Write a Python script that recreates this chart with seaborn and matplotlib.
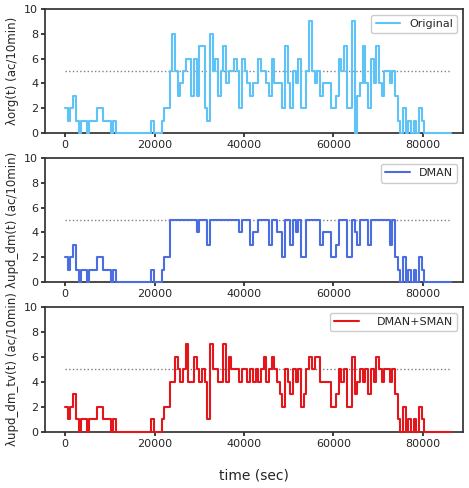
import numpy as np
import pandas as pd
import matplotlib
matplotlib.use('Agg')
import matplotlib.pyplot as plt
import seaborn as sns

# arrivals per 10-minute slot (600 s)
low_part = [2, 1, 2, 3, 1, 0, 1, 1, 0, 1, 1, 1, 2, 2, 1, 1, 1, 0, 1,
            0, 0, 0, 0, 0, 0, 0, 0, 0, 0, 0, 0, 0,
            1, 0, 0, 0, 1, 2, 2]
tail_part = [0, 2, 0, 1, 0, 1, 0, 2, 1, 0, 0, 0, 0, 0, 0, 0, 0, 0, 0]

original = low_part + [
    5, 8, 5, 3, 4, 5, 6, 6, 3, 6,
    3, 7, 7, 2, 1, 8, 5, 6, 3, 5,
    7, 4, 5, 5, 6, 5, 2, 6, 5, 4,
    3, 4, 4, 6, 5, 5,
    4, 3, 6, 4, 4, 4, 2, 7, 4, 2,
    5, 4, 6, 2, 2, 5, 9, 5, 4, 5,
    3, 4, 4, 4, 2, 2, 3, 6, 5, 7,
    2, 2, 9, 0, 3, 4, 7, 4, 2, 6,
    4, 7, 4, 3, 5, 5, 4, 5, 3, 1] + tail_part

dman = low_part + [
    5, 5, 5, 5, 5, 5, 5, 5, 5, 5,
    4, 5, 5, 5, 3, 5, 5, 5, 5, 5,
    5, 5, 5, 5, 5, 5, 4, 5, 5, 5,
    3, 4, 4, 5, 5, 5,
    5, 3, 5, 5, 4, 4, 2, 5, 5, 3,
    5, 4, 5, 2, 2, 5, 5, 5, 5, 5,
    3, 4, 4, 4, 2, 2, 3, 5, 5, 5,
    2, 2, 5, 4, 3, 5, 5, 5, 3, 5,
    5, 5, 5, 5, 5, 5, 3, 5, 2, 1] + tail_part

dman_sman = low_part + [
    4, 4, 6, 5, 4, 5, 7, 4, 4, 6,
    5, 4, 5, 4, 1, 7, 5, 5, 4, 4,
    7, 4, 6, 5, 5, 5, 4, 5, 5, 4,
    5, 4, 5, 4, 5, 6,
    4, 5, 6, 5, 4, 3, 2, 5, 4, 3,
    5, 4, 5, 2, 3, 5, 6, 5, 6, 6,
    4, 4, 4, 4, 2, 2, 3, 5, 4, 5,
    2, 2, 6, 3, 4, 5, 4, 5, 3, 5,
    4, 6, 5, 4, 5, 5, 4, 5, 3, 1] + tail_part

slot_sec = 600
labels = ['Original', 'DMAN', 'DMAN+SMAN']
ylabels = ['λorg(t) (ac/10min)', 'λupd_dm(t) (ac/10min)', 'λupd_dm_tv(t) (ac/10min)']
colors = ['#5ec4f7', '#4a6ee0', '#e3171b']
capacity = 5

sns.set_theme(style='ticks')
plt.rcParams['font.family'] = ['DejaVu Sans']

fig = plt.figure(figsize=(4.69, 4.88), dpi=100)
rects = [[0.096, 0.7275, 0.891, 0.254],
         [0.096, 0.422, 0.891, 0.254],
         [0.096, 0.115, 0.891, 0.256]]

for i, series in enumerate([original, dman, dman_sman]):
    ax = fig.add_axes(rects[i])
    # repeat last value so the final step is drawn to the end of the day
    vals = list(series) + [series[-1]]
    df = pd.DataFrame({'t': np.arange(len(vals)) * slot_sec, 'v': vals})
    sns.lineplot(data=df, x='t', y='v', ax=ax, drawstyle='steps-post',
                 color=colors[i], linewidth=1.5, label=labels[i],
                 zorder=3, clip_on=False)
    ax.hlines(capacity, 0, df['t'].iloc[-1], colors='gray', linestyles=':', linewidth=1)
    ax.set_xlim(-4500, 89000)
    ax.set_ylim(0, 10)
    ax.set_xticks([0, 20000, 40000, 60000, 80000])
    ax.set_yticks([0, 2, 4, 6, 8, 10])
    ax.tick_params(labelsize=8, length=3, pad=2)
    ax.set_ylabel(ylabels[i], fontsize=8.5, labelpad=4)
    ax.set_xlabel('')
    for s in ax.spines.values():
        s.set_color('#333333')
    pad = 1.6 if i == 2 else 0.8
    ax.legend(loc='upper right', fontsize=8, handletextpad=pad,
              handlelength=2.2, framealpha=1, borderaxespad=0.5)

ax.set_xlabel('time (sec)', fontsize=10, labelpad=14)

fig.savefig('out.png', dpi=100)
